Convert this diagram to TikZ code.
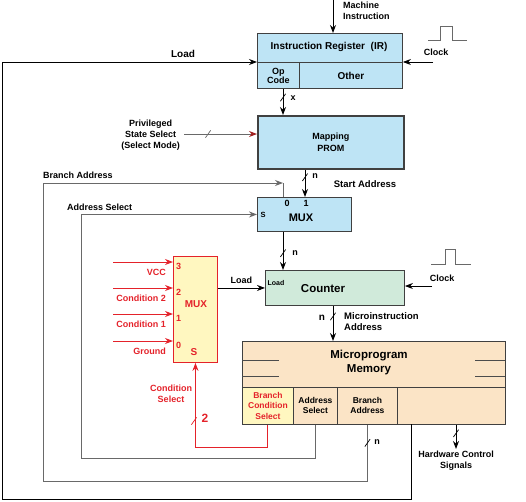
\documentclass[tikz,border=0pt]{standalone}
\usepackage{fontspec}
\setmainfont{Liberation Sans}
\usepackage{tikz}
\usetikzlibrary{positioning, arrows.meta, calc}

\definecolor{irblue}{RGB}{190,228,245}
\definecolor{ctrgreen}{RGB}{208,234,218}
\definecolor{mempeach}{RGB}{251,228,198}
\definecolor{muxyellow}{RGB}{255,247,192}
\definecolor{sigred}{RGB}{228,34,42}
\definecolor{darkred}{RGB}{160,30,30}
\definecolor{wiregrey}{RGB}{105,105,105}

\newcommand{\fsz}[2]{\fontsize{#1}{#2}\selectfont\bfseries}

\begin{document}
\begin{tikzpicture}[
    x=1pt, y=-1pt,
    >={Stealth[length=8pt,width=6pt]},
    box/.style={draw=black!75, line width=0.9pt, inner sep=0pt, anchor=north west, align=center, font=\fsz{9}{10.5}},
    lbl/.style={inner sep=0pt, align=center, font=\fsz{9}{11}},
    redlbl/.style={lbl, text=sigred},
    wire/.style={draw=wiregrey, line width=1pt},
    sigline/.style={draw=sigred, line width=1pt, >={Stealth[length=8pt,width=6pt]}},
    busmark/.style={draw, line width=0.7pt, inner sep=0pt, minimum width=0pt, minimum height=9pt, rotate=-35},
    pulse/.style={draw=wiregrey, line width=0.8pt}
]
\useasboundingbox (0,0) rectangle (526,501);

% Instruction register
\node[box, fill=irblue, minimum width=145pt, minimum height=55pt] (ir) at (257,33) {};
\node[lbl, font=\fsz{10}{12}] (irname) at (329,47) {Instruction Register\ \ (IR)};
\node[box, minimum width=42pt, minimum height=26pt, font=\fsz{9}{9}] (opcode) at (257,62) {Op\\Code};
\node[box, minimum width=103pt, minimum height=26pt, font=\fsz{10}{11}] (other) at (299,62) {Other};

% Mapping PROM
\node[box, fill=irblue, line width=1.6pt, minimum width=146pt, minimum height=53pt, font=\fsz{9}{11.5}] (prom) at (257,115) {Mapping\\PROM};

% Address MUX
\node[box, fill=irblue, minimum width=94pt, minimum height=34pt] (amux) at (257,197) {};
\node[lbl, font=\fsz{11}{12}] (amuxname) at (301,218) {MUX};
\node[lbl] (amux0) at (287,203) {0};
\node[lbl] (amux1) at (306,203) {1};
\node[lbl, font=\fsz{7.5}{8}] (amuxs) at (263,215) {S};

% Counter
\node[box, fill=ctrgreen, minimum width=139pt, minimum height=35pt] (ctr) at (265,270) {};
\node[lbl, font=\fsz{7}{8}] (ctrload) at (276,283) {Load};
\node[lbl, font=\fsz{11.5}{13}] (ctrname) at (323,289) {Counter};

% Condition MUX
\node[box, draw=sigred, fill=muxyellow, minimum width=44pt, minimum height=106pt] (cmux) at (173,256) {};
\node[redlbl, font=\fsz{10}{11}] (cmuxname) at (196,304) {MUX};
\node[redlbl, font=\fsz{10}{11}] (cmuxs) at (194,352) {S};

% Microprogram memory
\node[box, fill=mempeach, minimum width=263pt, minimum height=83pt] (mem) at (242,341) {};
\node[lbl, font=\fsz{11.5}{14}] (memname) at (369,363) {Microprogram\\Memory};
\draw[line width=0.8pt, draw=black!70] (242,360) -- (279,360) (242,376) -- (279,376);
\draw[line width=0.8pt, draw=black!70] (475,360) -- (505,360) (475,376) -- (505,376);
\node[box, fill=muxyellow, text=sigred, minimum width=51pt, minimum height=37pt, font=\fsz{8.5}{10.5}] (bcs) at (242,387) {Branch\\Condition\\Select};
\node[box, minimum width=44pt, minimum height=37pt, font=\fsz{8.5}{10}] (asel) at (293,387) {Address\\Select};
\node[box, minimum width=60pt, minimum height=37pt, font=\fsz{8.5}{10}] (baddr) at (337,387) {Branch\\Address};
\node[box, minimum width=108pt, minimum height=37pt] (spare) at (397,387) {};

% Machine instruction in
\coordinate (mi) at (333,0);
\draw[->, line width=0.9pt] (mi) -- (mi |- ir.north);
\node[lbl, anchor=west, align=left] (milbl) at (343,11) {Machine\\Instruction};

% IR clock
\coordinate (irclk) at (433,62);
\draw[->, line width=0.9pt] (irclk) -- (other.north east);
\draw[pulse] (428,40) -- (440,40) -- (440,26) -- (452,26) -- (452,40) -- (467,40);
\node[lbl] (irclklbl) at (436,52) {Clock};

% Load loop from memory
\coordinate (loadtap) at (411,424);
\draw[line width=1pt, ->] (loadtap) |- (2,499) |- (opcode.north west);
\node[lbl, font=\fsz{10}{11}] (loadlbl) at (183,54) {Load};

% IR to PROM
\coordinate (busx) at (283,0);
\draw[->, line width=0.9pt] (opcode.south -| busx) -- (prom.north -| busx) node[pos=.33, busmark] (xmark) {};
\node[lbl] (xlbl) at (293,98) {x};

% Privileged state select
\coordinate (priv) at (184,134);
\draw[wire, -{Stealth[length=8pt,width=6pt,color=darkred]}] (priv) -- (priv -| prom.west) node[pos=.33, busmark] (privmark) {};
\node[lbl, anchor=east] (privlbl) at (180,135) {Privileged\\State Select\\(Select Mode)};

% PROM to MUX
\coordinate (startx) at (305,0);
\draw[->, line width=0.9pt] (prom.south -| startx) -- (amux.north -| startx) node[pos=.28, busmark] (samark) {};
\node[lbl] (salbl) at (315,176) {n};
\node[lbl, font=\fsz{9.5}{11}] (startlbl) at (365,184) {Start Address};

% Branch address loop
\coordinate (bacorner) at (283,183);
\draw[wire, ->] (baddr.south) |- (43,481) |- (bacorner);
\draw[wire] (bacorner) -- (bacorner |- amux.north);
\node[busmark] (bamark) at ($(baddr.south)+(0,18)$) {};
\node[lbl] (balbln) at (377,442) {n};
\node[lbl, anchor=west] (balbl) at (43,175) {Branch Address};

% Address select loop
\draw[wire, ->] (asel.south) |- (81,458) |- (amux.west);
\node[lbl, anchor=west] (asellbl) at (67,207) {Address Select};

% MUX to counter
\draw[->, line width=0.9pt] (amux.south -| busx) -- (ctr.north -| busx) node[pos=.56, busmark] (mcmark) {};
\node[lbl] (mclbl) at (295,253) {n};

% Counter clock
\coordinate (ctrclk) at (432,286);
\draw[->, line width=0.9pt] (ctrclk) -- (ctrclk -| ctr.east);
\draw[pulse] (431,264) -- (445,264) -- (445,249) -- (455,249) -- (455,264) -- (471,264);
\node[lbl] (ctrclklbl) at (442,278) {Clock};

% Condition inputs
\foreach \i/\y/\txt in {3/262/VCC, 2/288/Condition 2, 1/314/Condition 1, 0/341/Ground} {
  \coordinate (cin\i) at (113,\y);
  \draw[sigline, ->] (cin\i) -- (cin\i -| cmux.west);
  \node[redlbl, anchor=west] (pin\i) at (176,\y+4) {\i};
  \node[redlbl, anchor=east] (cinlbl\i) at (166,\y+10) {\txt};
}

% Condition MUX load
\draw[->, line width=0.9pt] (cmux.east |- ctr.west) -- (ctr.west) node[midway, above=4pt, lbl] (cldlbl) {Load};

% Counter to memory
\coordinate (uax) at (333,0);
\draw[->, line width=0.9pt] (ctr.south -| uax) -- (mem.north -| uax) node[pos=.3, busmark] (uamark) {};
\node[lbl, font=\fsz{10}{11}] (ualbln) at (322,318) {n};
\node[lbl, anchor=west, align=left, font=\fsz{9.5}{11}] (ualbl) at (344,322) {Microinstruction\\Address};

% Condition select
\draw[sigline, ->] (bcs.south) -- ++(0,23) -| (cmux.south);
\node[busmark, draw=sigred] (csmark) at (194,421) {};
\node[redlbl, font=\fsz{12}{13}] (cs2) at (205,418) {2};
\node[redlbl] (cslbl) at (171,394) {Condition\\Select};

% Hardware control signals
\coordinate (hwend) at (456,449);
\draw[->, line width=0.9pt] (hwend |- spare.south) -- (hwend) node[pos=.35, busmark] (hwmark) {};
\node[lbl, below=2pt of hwend] (hwlbl) {Hardware Control\\Signals};

\end{tikzpicture}
\end{document}
